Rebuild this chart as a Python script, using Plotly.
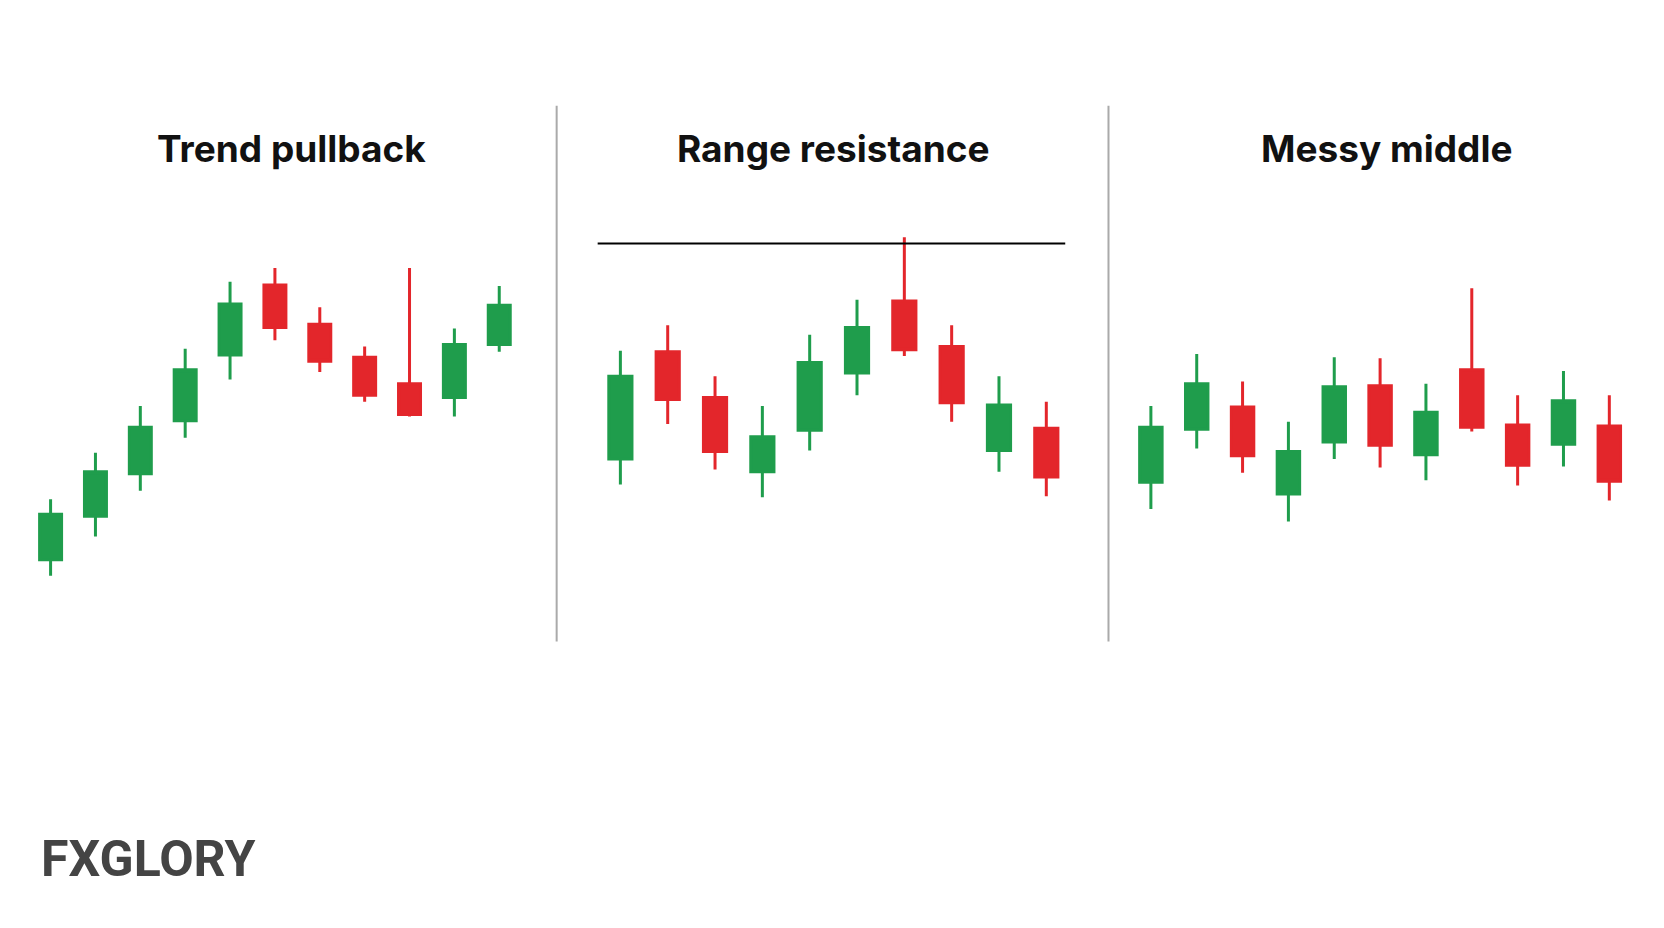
import plotly.graph_objects as go

H = 874.5
# values read as (image height - pixel y)
p1_open  = [H-528, H-487, H-447, H-397, H-335, H-269, H-306, H-337, H-362, H-375, H-325]
p1_close = [H-485, H-445, H-403, H-349, H-287, H-309, H-341, H-373, H-391, H-325, H-288]
p1_high  = [H-471, H-427, H-383, H-329, H-266, H-253, H-290, H-327, H-253, H-310, H-270]
p1_low   = [H-543, H-506, H-463, H-413, H-358, H-321, H-351, H-379, H-393, H-393, H-332]

p2_open  = [H-433, H-332, H-375, H-445, H-406, H-352, H-284, H-327, H-425, H-404]
p2_close = [H-355, H-377, H-426, H-412, H-342, H-309, H-330, H-380, H-382, H-450]
p2_high  = [H-331, H-307, H-355, H-383, H-316, H-283, H-224, H-307, H-355, H-379]
p2_low   = [H-457, H-400, H-443, H-469, H-425, H-373, H-336, H-398, H-445, H-468]
resistance = H-230

p3_open  = [H-455, H-405, H-384, H-466, H-417, H-364, H-429, H-349, H-401, H-419, H-402]
p3_close = [H-403, H-362, H-430, H-426, H-365, H-420, H-389, H-403, H-439, H-378, H-454]
p3_high  = [H-383, H-334, H-360, H-398, H-337, H-338, H-362, H-272, H-373, H-350, H-373]
p3_low   = [H-480, H-423, H-446, H-492, H-433, H-441, H-453, H-407, H-458, H-440, H-472]

titles = ["Trend pullback", "Range resistance", "Messy middle"]

GREEN = "#1f9d4c"; RED = "#e3262b"
fig = go.Figure()
panels = [(p1_open, p1_close, p1_high, p1_low), (p2_open, p2_close, p2_high, p2_low),
          (p3_open, p3_close, p3_high, p3_low)]
for k, (o, c, h, l) in enumerate(panels):
    ax = "" if k == 0 else str(k+1)
    fig.add_trace(go.Candlestick(
        x=list(range(len(o))), open=o, close=c, high=h, low=l,
        increasing=dict(line=dict(color=GREEN, width=3), fillcolor=GREEN),
        decreasing=dict(line=dict(color=RED, width=3), fillcolor=RED),
        whiskerwidth=0, xaxis="x"+ax, yaxis="y"+ax, showlegend=False, hoverinfo="skip"))

fig.add_trace(go.Scatter(x=[-0.48, 9.4], y=[resistance, resistance], mode="lines",
                         line=dict(color="black", width=2), xaxis="x2", yaxis="y2",
                         showlegend=False, hoverinfo="skip"))

W = 1568
DX, DY = 7, 8
def px(x):
    return (x - DX) / W
def py(y):
    return 1 - (y - DY) / H

doms = [[px(15), px(505)], [px(535), px(1030)], [px(1055), px(1560)]]
ranges = [[-0.76, 10.83], [-1.10, 10.0], [-0.67, 11.02]]
lay = dict(width=1664, height=928, plot_bgcolor="white", paper_bgcolor="white",
           margin=dict(l=0, r=0, t=0, b=0))
for k in range(3):
    ax = "" if k == 0 else str(k+1)
    lay["xaxis"+ax] = dict(domain=doms[k], range=ranges[k], visible=False, fixedrange=True,
                          rangeslider=dict(visible=False), anchor="y"+ax)
    lay["yaxis"+ax] = dict(domain=[0, 1], range=[-DY, H-DY], visible=False, anchor="x"+ax)
fig.update_layout(**lay)

shapes = []
for xp in [524, 1044]:
    shapes.append(dict(type="line", xref="paper", yref="paper", x0=px(xp), x1=px(xp),
                       y0=py(100), y1=py(605), line=dict(color="#aaaaaa", width=2)))
fig.update_layout(shapes=shapes)

centers = [274, 785, 1306]
for t, cx in zip(titles, centers):
    fig.add_annotation(text="<b>"+t+"</b>", x=px(cx), y=py(140), xref="paper", yref="paper",
                       xanchor="center", yanchor="middle",
                       showarrow=False, font=dict(family="Inter, Roboto", size=37, color="#111111"))
fig.add_annotation(text="<b>FXGLORY</b>", x=px(36), y=py(810), xref="paper", yref="paper",
                   xanchor="left", yanchor="middle", showarrow=False,
                   font=dict(family="Roboto, Inter", size=50, color="#444444"))
fig.write_html("out.html")
